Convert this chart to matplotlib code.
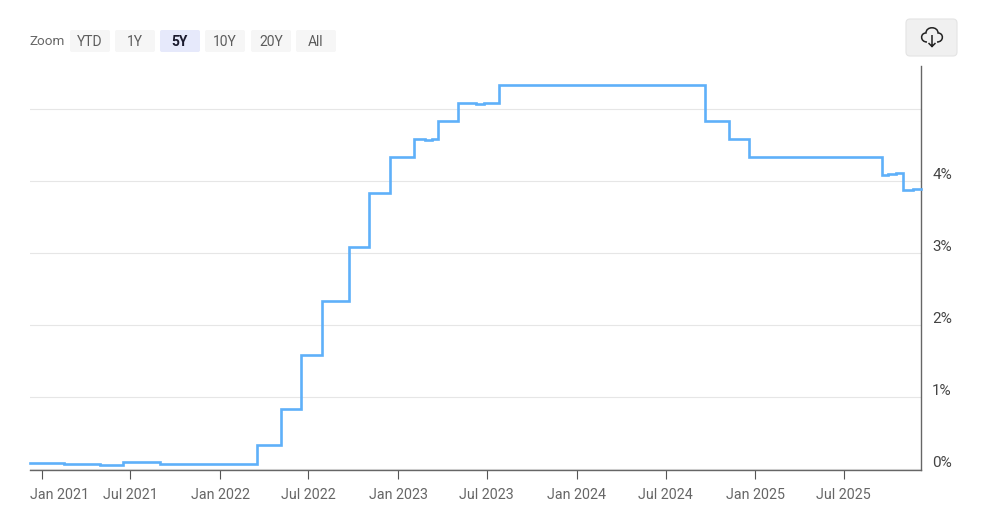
import matplotlib
matplotlib.use('Agg')
import matplotlib.pyplot as plt
import matplotlib.dates as mdates
from matplotlib.patches import FancyBboxPatch, PathPatch
from matplotlib.path import Path
from matplotlib.transforms import ScaledTranslation
from datetime import date

plt.rcParams['font.family'] = ['Roboto', 'DejaVu Sans']

# effective rate (value holds until next date)
dates = [date(2020,12,8), date(2021,1,18), date(2021,2,15), date(2021,4,30), date(2021,6,17),
         date(2021,9,1), date(2022,3,17), date(2022,5,5), date(2022,6,16), date(2022,7,28),
         date(2022,9,22), date(2022,11,3), date(2022,12,15), date(2023,2,2), date(2023,2,24),
         date(2023,3,10), date(2023,3,23), date(2023,5,4), date(2023,6,10), date(2023,6,25),
         date(2023,7,27), date(2024,9,19), date(2024,11,8), date(2024,12,19), date(2025,9,18),
         date(2025,9,30), date(2025,10,15), date(2025,10,30), date(2025,11,20), date(2025,12,6)]
rates = [0.09, 0.08, 0.07, 0.05, 0.10,
         0.07, 0.33, 0.83, 1.58, 2.33,
         3.08, 3.83, 4.33, 4.58, 4.56,
         4.58, 4.83, 5.08, 5.06, 5.08,
         5.33, 4.83, 4.58, 4.33, 4.08,
         4.09, 4.11, 3.87, 3.88, 3.89]

y_ticks = [0, 1, 2, 3, 4, 5]
y_labels = ['0%', '1%', '2%', '3%', '4%', '']
x_ticks = [date(2021,1,1), date(2021,7,1), date(2022,1,1), date(2022,7,1), date(2023,1,1),
           date(2023,7,1), date(2024,1,1), date(2024,7,1), date(2025,1,1), date(2025,7,1)]
zoom_buttons = ['YTD', '1Y', '5Y', '10Y', '20Y', 'All']

W, H = 984, 521
fig = plt.figure(figsize=(W/100, H/100), dpi=100)

# plot area in pixels: x 30-921, y 66-470
ax = fig.add_axes([30/W, 1-470/H, 891/W, 404/H])
ax.step(mdates.date2num(dates), rates, where='post', color='#5fb0f9', lw=1.9,
        solid_joinstyle='miter', clip_on=False, zorder=3)
ax.set_xlim(mdates.date2num(date(2020,12,8)), mdates.date2num(date(2025,12,6)))
ax.set_ylim(-0.014, 5.59)

ax.set_xticks(mdates.date2num(x_ticks))
ax.xaxis.set_major_formatter(mdates.DateFormatter('%b %Y'))
ax.tick_params(axis='x', length=6.5, width=0.8, color='#555555', labelcolor='#666666',
               labelsize=10.3, pad=6.5)

ax.yaxis.tick_right()
ax.set_yticks(y_ticks)
ax.set_yticklabels(y_labels)
ax.tick_params(axis='y', length=0, labelcolor='#444444', labelsize=11, pad=8)
off = ScaledTranslation(0, 7/100, fig.dpi_scale_trans)
for lab in ax.get_yticklabels():
    lab.set_transform(lab.get_transform() + off)

ax.grid(axis='y', color='#e6e6e6', lw=0.8)
ax.set_axisbelow(True)
for s in ['top', 'left']:
    ax.spines[s].set_visible(False)
for s in ['right', 'bottom']:
    ax.spines[s].set_color('#666666')
    ax.spines[s].set_linewidth(1.0)

# first label is pushed in to the plot's left edge in the original
fig.canvas.draw()
first = ax.get_xticklabels()[0]
first.set_transform(first.get_transform() + ScaledTranslation(17.5/100, 0, fig.dpi_scale_trans))

# overlay in pixel coordinates for the buttons above the chart
ui = fig.add_axes([0, 0, 1, 1])
ui.set_xlim(0, W)
ui.set_ylim(H, 0)
ui.axis('off')
ui.patch.set_alpha(0)

ui.text(47, 41.5, 'Zoom', ha='center', va='center', fontsize=9.7, color='#666666')
btn_x = [70, 115, 160, 205, 251, 296]
for x0, name in zip(btn_x, zoom_buttons):
    sel = name == '5Y'
    ui.add_patch(FancyBboxPatch((x0+2, 32), 36, 18, boxstyle='round,pad=2,rounding_size=2',
                                fc='#e6e9fb' if sel else '#f6f6f6', ec='none'))
    ui.text(x0+20, 41.5, name, ha='center', va='center', fontsize=10,
            color='#1a1a2e' if sel else '#5c5c5c', fontweight='bold' if sel else 'normal')

ui.add_patch(FancyBboxPatch((909, 22), 45, 31, boxstyle='round,pad=3,rounding_size=4',
                            fc='#f0f0f0', ec='#e4e4e4', lw=0.8))
# cloud with download arrow
cloud = [(Path.MOVETO, (927, 42)), (Path.CURVE4, (920, 42)), (Path.CURVE4, (920, 33)), (Path.CURVE4, (926, 33)),
         (Path.CURVE4, (926, 26)), (Path.CURVE4, (938, 26)), (Path.CURVE4, (938, 33)),
         (Path.CURVE4, (944, 33)), (Path.CURVE4, (944, 42)), (Path.CURVE4, (937, 42)),
         (Path.MOVETO, (932, 35)), (Path.LINETO, (932, 46.5)),
         (Path.MOVETO, (928.5, 43)), (Path.LINETO, (932, 46.5)), (Path.LINETO, (935.5, 43))]
ui.add_patch(PathPatch(Path([p for _, p in cloud], [c for c, _ in cloud]),
                       fc='none', ec='#222222', lw=1.1))

fig.savefig('out.png', dpi=100)
